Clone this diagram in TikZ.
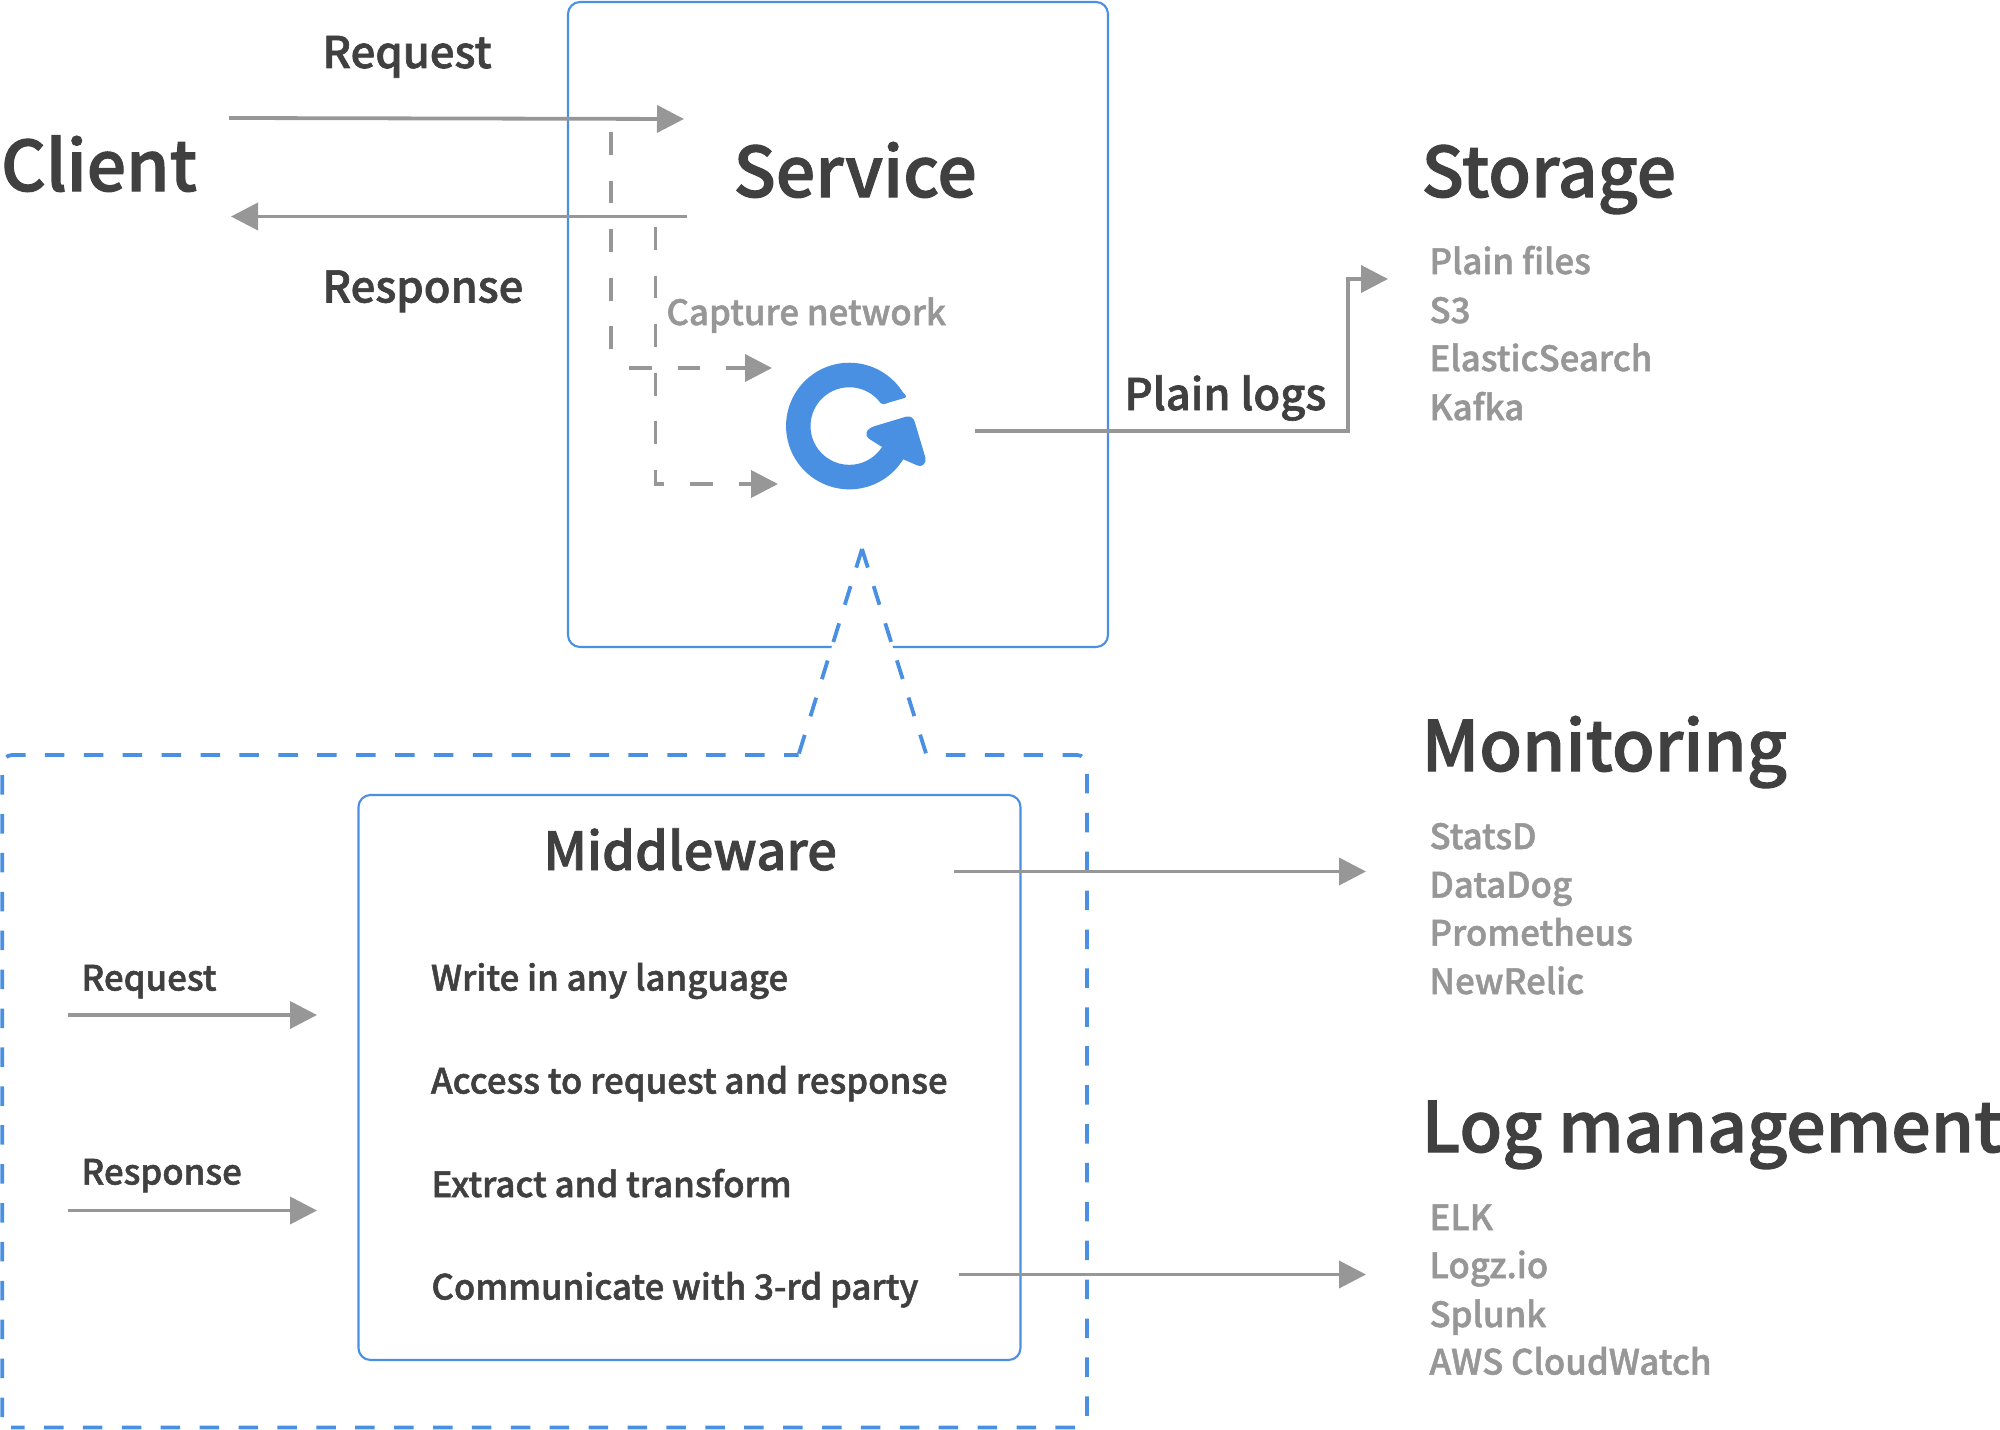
\documentclass[tikz,border=0pt]{standalone}
\usepackage{fontspec}
\setmainfont{Noto Sans CJK SC}
\newfontfamily\medf[FakeBold=1.5]{Noto Sans CJK SC Medium}
\usetikzlibrary{arrows.meta}
\definecolor{bl}{HTML}{4A90E2}
\definecolor{gr}{HTML}{979797}
\definecolor{dk}{HTML}{404040}
\tikzset{
 x=0.5pt,y=-0.5pt,
 tx/.style={anchor=base west,inner sep=0pt,outer sep=0pt},
 big/.style={tx,text=dk,font=\medf\fontsize{34.8pt}{36pt}\selectfont},
 midt/.style={tx,text=dk,font=\medf\fontsize{21.8pt}{24pt}\selectfont},
 item/.style={tx,text=gr,font=\medf\fontsize{17.4pt}{20pt}\selectfont},
 feat/.style={tx,text=dk,font=\medf\fontsize{17.4pt}{20pt}\selectfont},
 box/.style={draw=bl,line width=1.05pt,rounded corners=6pt,inner sep=0pt,outer sep=0pt},
 arr/.style={draw=gr,line width=1.9pt,-{Triangle[length=13.5pt,width=13.5pt,fill=gr]}},
 dsh/.style={arr,dash pattern=on 11.35pt off 12.95pt},
 dshv/.style={draw=gr,line width=1.9pt,dash pattern=on 11.35pt off 12.95pt},
 bd/.style={draw=bl,line width=1.9pt},
}
\begin{document}
\begin{tikzpicture}
\useasboundingbox (0,0) rectangle (2000,1429);
\node[box,minimum width=270pt,minimum height=322.5pt] (service) at (838,324.5) {};
\node[box,minimum width=331pt,minimum height=282.5pt] (mw) at (689.5,1077.5) {};
% dashed callout
\coordinate (peak) at (862,549);
\coordinate (lf) at (798.5,755);
\coordinate (rf) at (926.5,755);
\fill[white] (peak) -- (lf) -- (rf) -- cycle;
\draw[bd,dash pattern=on 9.75pt off 9.7pt] (peak) -- (lf);
\draw[bd,dash pattern=on 9.75pt off 9.7pt] (peak) -- (rf);
\draw[bd,dash pattern=on 9.75pt off 9.7pt,dash phase=2.5pt,rounded corners=5pt] (lf) -- (2.3,755) -- (2.3,1427.5);
\draw[bd,dash pattern=on 9.75pt off 9.7pt,dash phase=9.75pt,rounded corners=5pt] (rf) -- (1087,755) -- (1087,1427.5) -- (11,1427.5);
% arrows
\coordinate (a1s) at (229,118); \coordinate (a1e) at (684,119);
\coordinate (a2s) at (687,216.5); \coordinate (a2e) at (231,216.5);
\draw[arr] (a1s) -- (a1e);
\draw[arr] (a2s) -- (a2e);
\coordinate (d1s) at (611,132); \coordinate (d1e) at (611,349);
\coordinate (d1h) at (629,368); \coordinate (d1t) at (772,368);
\draw[dshv] (d1s) -- (d1e);
\draw[dsh] (d1h) -- (d1t);
\coordinate (d2s) at (655.5,227); \coordinate (d2c) at (655.5,484); \coordinate (d2t) at (778,484);
\draw[dsh] (d2s) -- (d2c) -- (d2t);
\coordinate (p1) at (975,431); \coordinate (p2) at (1348,431); \coordinate (p3) at (1348,279); \coordinate (p4) at (1388,279);
\draw[arr] (p1) -- (p2) -- (p3) -- (p4);
\coordinate (m1) at (954,871.5); \coordinate (m2) at (1366,871.5);
\draw[arr] (m1) -- (m2);
\coordinate (l1) at (959,1274.5); \coordinate (l2) at (1366,1274.5);
\draw[arr] (l1) -- (l2);
\coordinate (r1) at (68,1015); \coordinate (r2) at (317,1015);
\draw[arr] (r1) -- (r2);
\coordinate (s1) at (68,1210.5); \coordinate (s2) at (317,1210.5);
\draw[arr] (s1) -- (s2);
% logo
\fill[bl] (903.2,459.3) arc[start angle=31.7,end angle=327.6,radius=63.3]
  .. controls (905.5,395) and (907.5,396.8) .. (904.5,398)
  -- (889,402.5) .. controls (885.5,403.5) and (883.5,405.5) .. (880.3,402.7)
  arc[start angle=323,end angle=32.6,radius=38.8]
  -- (869,438.8) .. controls (864,435.5) and (865.5,429) .. (875,426)
  -- (906,416.7) .. controls (911,415.5) and (914,418.5) .. (915,422.7)
  -- (925.5,458) .. controls (926.5,463.5) and (921.5,467.5) .. (917.5,465.5)
  -- cycle;
% texts
\node[midt] (t1) at (322.5,68) {Request};
\node[midt] (t2) at (322.5,302.5) {Response};
\node[big] (t3) at (1,191) {Client};
\node[big] (t4) at (733.5,197) {Service};
\node[item] (t5) at (666.5,325) {Capture network};
\node[big] (t6) at (1421.5,197) {Storage};
\node[item] (t7) at (1429.5,274) {Plain files};
\node[item] (t8) at (1429.5,323) {S3};
\node[item] (t9) at (1429.5,371) {ElasticSearch};
\node[item] (t10) at (1429.5,420) {Kafka};
\node[midt] (t11) at (1124.5,410) {Plain logs};
\node[big,font=\medf\fontsize{26.2pt}{30pt}\selectfont] (t12) at (543.5,870) {Middleware};
\node[feat] (t13) at (431,990.5) {Write in any language};
\node[feat] (t14) at (431,1093.5) {Access to request and response};
\node[feat] (t15) at (431.5,1197) {Extract and transform};
\node[feat] (t16) at (431.5,1299.5) {Communicate with 3-rd party};
\node[feat] (t17) at (81.5,990.5) {Request};
\node[feat] (t18) at (81.5,1184.5) {Response};
\node[big] (t19) at (1421.5,771) {Monitoring};
\node[item] (t20) at (1429.5,849) {StatsD};
\node[item] (t21) at (1429.5,897.5) {DataDog};
\node[item] (t22) at (1429.5,945.5) {Prometheus};
\node[item] (t23) at (1429.5,994) {NewRelic};
\node[big] (t24) at (1421.5,1152) {Log management};
\node[item] (t25) at (1429.5,1230) {ELK};
\node[item] (t26) at (1429.5,1278) {Logz.io};
\node[item] (t27) at (1429.5,1327) {Splunk};
\node[item] (t28) at (1429.5,1374.5) {AWS CloudWatch};
\end{tikzpicture}
\end{document}
